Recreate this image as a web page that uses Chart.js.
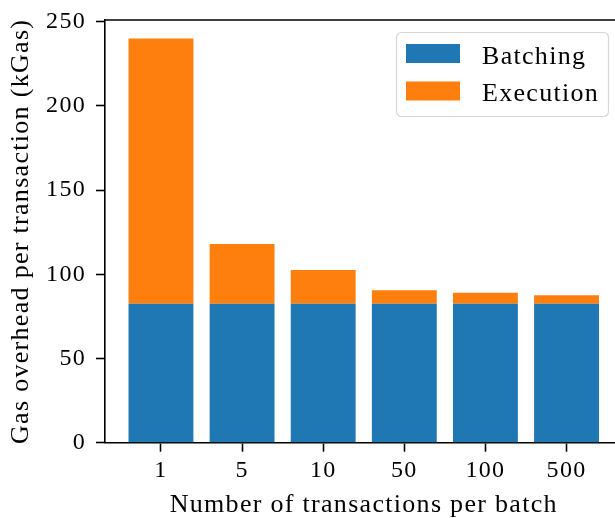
<!DOCTYPE html>
<html>
<head>
<meta charset="utf-8">
<script src="https://cdn.jsdelivr.net/npm/chart.js@4/dist/chart.umd.min.js"></script>
<style>
  html, body { margin: 0; padding: 0; background: #fff; overflow: hidden; }
  #wrap { width: 615px; height: 518px; overflow: hidden; }
</style>
</head>
<body>
<div id="wrap"><canvas id="c" width="640" height="518"></canvas></div>
<script>
// Batch sizes and per-transaction gas overhead (kGas)
const categories = ['1', '5', '10', '50', '100', '500'];
const batching = [82.5, 82.5, 82.5, 82.5, 82.5, 82.5];
const execution = [157.5, 35.5, 20, 8, 6.5, 5];
const yTicks = [0, 50, 100, 150, 200, 250];

const seriesNames = ['Batching', 'Execution'];
const seriesColors = ['#1f77b4', '#ff7f0e'];

const FONT = "'Liberation Serif', 'DejaVu Serif', serif";
const SPACING = '1.3px';

const toPoints = (vals) => vals.map((v, i) => ({ x: i, y: v }));

// Slightly wider letter spacing for every label, then a top frame line
// and a boxed key in the upper right of the plot
const frameAndKey = {
  id: 'frameAndKey',
  beforeDraw(chart) {
    chart.ctx.letterSpacing = SPACING;
  },
  afterDraw(chart) {
    const ctx = chart.ctx;
    const a = chart.chartArea;
    ctx.save();
    ctx.strokeStyle = '#000';
    ctx.lineWidth = 1.6;
    ctx.beginPath();
    ctx.moveTo(a.left - 0.8, a.top);
    ctx.lineTo(chart.width, a.top);
    ctx.stroke();

    // key box
    const bx = 396.5, by = 32.5, bw = 212, bh = 84, r = 5;
    ctx.fillStyle = 'rgba(255,255,255,0.8)';
    ctx.strokeStyle = '#d6d6d6';
    ctx.lineWidth = 1.2;
    ctx.beginPath();
    ctx.roundRect(bx, by, bw, bh, r);
    ctx.fill();
    ctx.stroke();

    ctx.letterSpacing = SPACING;
    ctx.font = '26px ' + FONT;
    ctx.textBaseline = 'alphabetic';
    ctx.textAlign = 'left';
    chart.data.datasets.forEach((ds, i) => {
      const y0 = 44 + i * 37.5;
      ctx.fillStyle = ds.backgroundColor;
      ctx.fillRect(406, y0, 54, 19);
      ctx.fillStyle = '#000';
      ctx.fillText(ds.label, 482, y0 + 19.5);
    });
    ctx.restore();
  }
};

new Chart(document.getElementById('c'), {
  type: 'bar',
  data: {
    datasets: [
      { label: seriesNames[0], data: toPoints(batching), backgroundColor: seriesColors[0] },
      { label: seriesNames[1], data: toPoints(execution), backgroundColor: seriesColors[1] }
    ]
  },
  options: {
    responsive: false,
    animation: false,
    layout: { padding: { top: 20, left: 0, right: 17.5, bottom: 0 } },
    categoryPercentage: 1.0,
    barPercentage: 0.8,
    plugins: {
      legend: { display: false },
      tooltip: { enabled: false }
    },
    scales: {
      x: {
        type: 'linear',
        stacked: true,
        offset: false,
        min: -0.69,
        max: 5.69,
        afterBuildTicks(axis) {
          axis.ticks = categories.map((c, i) => ({ value: i }));
        },
        afterFit(axis) {
          axis.height = 75.3;
          axis.paddingLeft = 0;
          axis.paddingRight = 0;
        },
        border: { display: true, color: '#000', width: 1.6 },
        grid: { offset: false, drawOnChartArea: false, drawTicks: true, tickLength: 9, tickWidth: 1.6, tickColor: '#000' },
        ticks: {
          autoSkip: false,
          maxRotation: 0,
          padding: 5,
          color: '#000',
          font: { family: FONT, size: 24 },
          callback: (v) => categories[v] ?? ''
        },
        title: {
          display: true,
          text: 'Number of transactions per batch',
          color: '#000',
          font: { family: FONT, size: 26, lineHeight: 1.0 },
          padding: { top: 0, bottom: 0 }
        }
      },
      y: {
        stacked: true,
        min: 0,
        max: 251,
        afterBuildTicks(axis) {
          axis.ticks = yTicks.map((v) => ({ value: v }));
        },
        afterFit(axis) {
          axis.width = 105;
          axis.paddingTop = 0;
          axis.paddingBottom = 0;
        },
        border: { display: true, color: '#000', width: 1.6 },
        grid: { drawOnChartArea: false, drawTicks: true, tickLength: 9, tickWidth: 1.6, tickColor: '#000' },
        ticks: {
          padding: 10,
          color: '#000',
          font: { family: FONT, size: 24 }
        },
        title: {
          display: true,
          text: 'Gas overhead per transaction (kGas)',
          color: '#000',
          font: { family: FONT, size: 26, lineHeight: 1.0 },
          padding: { top: 8, bottom: 0 }
        }
      }
    }
  },
  plugins: [frameAndKey]
});
</script>
</body>
</html>
